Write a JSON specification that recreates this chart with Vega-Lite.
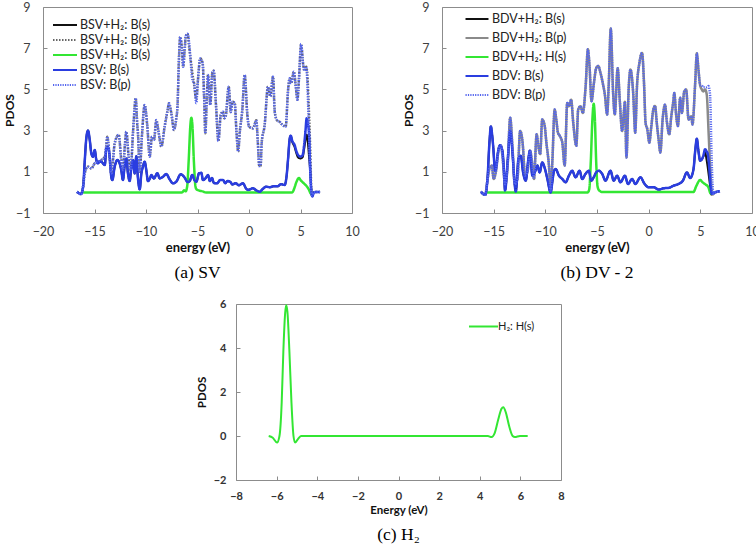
{
"$schema": "https://vega.github.io/schema/vega-lite/v6.json",
"background": "white",
"padding": {"left": 3, "top": 0, "right": 2, "bottom": 2},
"config": {
  "font": "Lato",
  "view": {"stroke": "#8c8c8c", "strokeWidth": 1},
  "axis": {"grid": false, "domain": false, "ticks": true, "tickSize": -4, "tickColor": "#8c8c8c", "labelFont": "Lato", "labelFontSize": 12.5, "labelColor": "#404040", "labelPadding": 16, "labelFlush": false, "labelOverlap": false, "titleFont": "Lato", "titleFontSize": 13, "titleFontWeight": "bold", "titleColor": "#111111", "titlePadding": 4},
  "axisY": {"titleFontSize": 12},
  "legend": {"labelFont": "Lato", "labelFontSize": 12.5, "labelColor": "#222222", "padding": 0},
  "title": {"font": "Liberation Serif", "fontSize": 17.5, "fontWeight": "normal", "color": "#000000", "orient": "bottom", "anchor": "middle"}
},
"datasets": {
"a1": [{"e":-16.7,"v":0.03},{"e":-16.3,"v":-0.08},{"e":-16.1,"v":0.3},{"e":-15.95,"v":1.5},{"e":-15.8,"v":2.6},{"e":-15.63,"v":3.0},{"e":-15.45,"v":2.5},{"e":-15.31,"v":1.9},{"e":-15.15,"v":1.73},{"e":-14.98,"v":2.06},{"e":-14.82,"v":1.57},{"e":-14.66,"v":1.41},{"e":-14.5,"v":1.5},{"e":-14.34,"v":1.49},{"e":-14.0,"v":1.33},{"e":-13.85,"v":2.14},{"e":-13.69,"v":2.19},{"e":-13.53,"v":1.73},{"e":-13.37,"v":0.76},{"e":-13.27,"v":0.6},{"e":-13.04,"v":1.25},{"e":-12.78,"v":1.57},{"e":-12.56,"v":1.41},{"e":-12.4,"v":1.08},{"e":-12.24,"v":0.6},{"e":-12.08,"v":1.25},{"e":-11.91,"v":1.65},{"e":-11.75,"v":0.92},{"e":-11.59,"v":0.55},{"e":-11.43,"v":1.16},{"e":-11.26,"v":1.57},{"e":-11.1,"v":0.92},{"e":-10.94,"v":1.75},{"e":-10.78,"v":0.68},{"e":-10.61,"v":0.15},{"e":-10.45,"v":0.92},{"e":-10.3,"v":1.25},{"e":-10.13,"v":1.49},{"e":-9.97,"v":1.08},{"e":-9.81,"v":0.55},{"e":-9.6,"v":0.7},{"e":-9.48,"v":0.84},{"e":-9.23,"v":0.68},{"e":-8.9,"v":0.93},{"e":-8.67,"v":0.68},{"e":-8.35,"v":0.76},{"e":-8.03,"v":0.89},{"e":-7.7,"v":0.63},{"e":-7.38,"v":0.44},{"e":-7.06,"v":0.52},{"e":-6.63,"v":0.88},{"e":-6.25,"v":0.72},{"e":-5.95,"v":0.5},{"e":-5.76,"v":0.55},{"e":-5.5,"v":0.85},{"e":-5.3,"v":0.6},{"e":-5.11,"v":0.52},{"e":-4.85,"v":0.93},{"e":-4.63,"v":0.95},{"e":-4.47,"v":0.6},{"e":-4.2,"v":0.7},{"e":-3.98,"v":0.84},{"e":-3.8,"v":0.55},{"e":-3.6,"v":0.7},{"e":-3.4,"v":0.45},{"e":-3.1,"v":0.44},{"e":-2.8,"v":0.6},{"e":-2.52,"v":0.6},{"e":-2.3,"v":0.45},{"e":-2.1,"v":0.55},{"e":-1.8,"v":0.5},{"e":-1.6,"v":0.38},{"e":-1.3,"v":0.45},{"e":-1.0,"v":0.35},{"e":-0.58,"v":0.44},{"e":-0.3,"v":0.2},{"e":-0.1,"v":0.12},{"e":0.39,"v":0.2},{"e":0.7,"v":0.1},{"e":1.03,"v":0.03},{"e":1.3,"v":0.15},{"e":1.68,"v":0.28},{"e":2.0,"v":0.25},{"e":2.4,"v":0.3},{"e":2.8,"v":0.3},{"e":3.1,"v":0.4},{"e":3.46,"v":0.36},{"e":3.65,"v":0.8},{"e":3.79,"v":1.6},{"e":3.95,"v":2.6},{"e":4.05,"v":2.75},{"e":4.2,"v":2.45},{"e":4.43,"v":2.2},{"e":4.6,"v":1.9},{"e":4.76,"v":1.7},{"e":4.98,"v":1.65},{"e":5.2,"v":1.7},{"e":5.35,"v":2.1},{"e":5.47,"v":2.5},{"e":5.6,"v":2.8},{"e":5.72,"v":2.4},{"e":5.82,"v":1.8},{"e":5.95,"v":1.0},{"e":6.1,"v":-0.15},{"e":6.3,"v":0.0},{"e":6.53,"v":0.02},{"e":6.9,"v":0.02}],
"a2": [{"e":-16.7,"v":0.03},{"e":-16.3,"v":-0.08},{"e":-16.1,"v":0.3},{"e":-15.95,"v":0.93},{"e":-15.63,"v":1.25},{"e":-15.3,"v":1.16},{"e":-14.98,"v":1.41},{"e":-14.66,"v":1.49},{"e":-14.34,"v":1.57},{"e":-14.0,"v":1.73},{"e":-13.85,"v":2.3},{"e":-13.76,"v":2.7},{"e":-13.6,"v":2.14},{"e":-13.37,"v":0.93},{"e":-13.2,"v":1.6},{"e":-13.04,"v":2.38},{"e":-12.65,"v":2.79},{"e":-12.4,"v":1.57},{"e":-12.24,"v":1.08},{"e":-12.05,"v":2.3},{"e":-11.91,"v":2.95},{"e":-11.66,"v":1.57},{"e":-11.5,"v":1.08},{"e":-11.25,"v":3.0},{"e":-11.0,"v":4.57},{"e":-10.85,"v":3.3},{"e":-10.78,"v":2.87},{"e":-10.61,"v":1.0},{"e":-10.4,"v":2.7},{"e":-10.13,"v":4.24},{"e":-9.87,"v":3.2},{"e":-9.64,"v":1.73},{"e":-9.42,"v":2.7},{"e":-9.22,"v":2.55},{"e":-9.0,"v":3.51},{"e":-8.77,"v":2.9},{"e":-8.51,"v":2.22},{"e":-8.19,"v":3.2},{"e":-7.9,"v":4.0},{"e":-7.77,"v":4.33},{"e":-7.54,"v":3.84},{"e":-7.28,"v":3.03},{"e":-7.06,"v":3.6},{"e":-6.94,"v":4.2},{"e":-6.8,"v":6.5},{"e":-6.68,"v":7.55},{"e":-6.5,"v":6.9},{"e":-6.39,"v":6.1},{"e":-6.25,"v":6.9},{"e":-6.13,"v":7.6},{"e":-5.97,"v":7.7},{"e":-5.8,"v":7.0},{"e":-5.65,"v":6.4},{"e":-5.5,"v":5.8},{"e":-5.32,"v":5.2},{"e":-5.12,"v":4.5},{"e":-4.95,"v":5.5},{"e":-4.73,"v":6.5},{"e":-4.5,"v":6.27},{"e":-4.35,"v":4.5},{"e":-4.24,"v":2.87},{"e":-4.1,"v":4.5},{"e":-3.98,"v":5.7},{"e":-3.87,"v":5.06},{"e":-3.76,"v":4.24},{"e":-3.55,"v":5.86},{"e":-3.43,"v":5.9},{"e":-3.2,"v":4.2},{"e":-2.97,"v":2.49},{"e":-2.74,"v":3.77},{"e":-2.52,"v":3.92},{"e":-2.42,"v":3.6},{"e":-2.26,"v":3.7},{"e":-1.97,"v":5.13},{"e":-1.77,"v":3.9},{"e":-1.6,"v":4.4},{"e":-1.39,"v":4.33},{"e":-1.2,"v":2.8},{"e":-1.05,"v":1.98},{"e":-0.9,"v":2.9},{"e":-0.65,"v":4.0},{"e":-0.42,"v":5.7},{"e":-0.16,"v":3.77},{"e":0.0,"v":3.2},{"e":0.39,"v":3.11},{"e":0.71,"v":3.5},{"e":0.85,"v":2.5},{"e":1.0,"v":1.28},{"e":1.13,"v":1.3},{"e":1.23,"v":2.4},{"e":1.52,"v":3.27},{"e":1.84,"v":5.13},{"e":2.07,"v":4.66},{"e":2.33,"v":5.62},{"e":2.5,"v":3.9},{"e":2.72,"v":3.5},{"e":3.04,"v":3.4},{"e":3.2,"v":3.3},{"e":3.56,"v":3.2},{"e":3.8,"v":5.0},{"e":3.95,"v":5.54},{"e":4.1,"v":5.3},{"e":4.35,"v":5.86},{"e":4.55,"v":5.1},{"e":4.7,"v":4.5},{"e":4.85,"v":5.5},{"e":5.06,"v":7.2},{"e":5.26,"v":6.2},{"e":5.4,"v":5.9},{"e":5.55,"v":6.1},{"e":5.65,"v":5.8},{"e":5.8,"v":4.2},{"e":5.95,"v":2.0},{"e":6.05,"v":0.2},{"e":6.15,"v":-0.15},{"e":6.3,"v":0.0},{"e":6.5,"v":0.02},{"e":6.9,"v":0.02}],
"a3": [{"e":-16.1,"v":0.0},{"e":-6.5,"v":0.0},{"e":-6.3,"v":0.1},{"e":-6.15,"v":0.05},{"e":-6.0,"v":0.3},{"e":-5.85,"v":1.6},{"e":-5.7,"v":3.2},{"e":-5.6,"v":3.62},{"e":-5.5,"v":3.3},{"e":-5.35,"v":1.5},{"e":-5.2,"v":0.3},{"e":-5.1,"v":0.15},{"e":-4.9,"v":0.1},{"e":-4.5,"v":0.05},{"e":-4.2,"v":0.0},{"e":4.2,"v":0.0},{"e":4.4,"v":0.2},{"e":4.6,"v":0.5},{"e":4.85,"v":0.7},{"e":5.0,"v":0.6},{"e":5.3,"v":0.45},{"e":5.6,"v":0.3},{"e":5.8,"v":0.15},{"e":6.0,"v":-0.05},{"e":6.15,"v":0.0}],
"a4": [{"e":-16.7,"v":0.03},{"e":-16.3,"v":-0.08},{"e":-16.1,"v":0.3},{"e":-15.95,"v":1.5},{"e":-15.8,"v":2.6},{"e":-15.63,"v":3.0},{"e":-15.45,"v":2.5},{"e":-15.31,"v":1.9},{"e":-15.15,"v":1.73},{"e":-14.98,"v":2.06},{"e":-14.82,"v":1.57},{"e":-14.66,"v":1.41},{"e":-14.5,"v":1.5},{"e":-14.34,"v":1.49},{"e":-14.0,"v":1.33},{"e":-13.85,"v":2.14},{"e":-13.69,"v":2.19},{"e":-13.53,"v":1.73},{"e":-13.37,"v":0.76},{"e":-13.27,"v":0.6},{"e":-13.04,"v":1.25},{"e":-12.78,"v":1.57},{"e":-12.56,"v":1.41},{"e":-12.4,"v":1.08},{"e":-12.24,"v":0.6},{"e":-12.08,"v":1.25},{"e":-11.91,"v":1.65},{"e":-11.75,"v":0.92},{"e":-11.59,"v":0.55},{"e":-11.43,"v":1.16},{"e":-11.26,"v":1.57},{"e":-11.1,"v":0.92},{"e":-10.94,"v":1.75},{"e":-10.78,"v":0.68},{"e":-10.61,"v":0.15},{"e":-10.45,"v":0.92},{"e":-10.3,"v":1.25},{"e":-10.13,"v":1.49},{"e":-9.97,"v":1.08},{"e":-9.81,"v":0.55},{"e":-9.6,"v":0.7},{"e":-9.48,"v":0.84},{"e":-9.23,"v":0.68},{"e":-8.9,"v":0.93},{"e":-8.67,"v":0.68},{"e":-8.35,"v":0.76},{"e":-8.03,"v":0.89},{"e":-7.7,"v":0.63},{"e":-7.38,"v":0.44},{"e":-7.06,"v":0.52},{"e":-6.63,"v":0.88},{"e":-6.25,"v":0.72},{"e":-5.95,"v":0.5},{"e":-5.76,"v":0.55},{"e":-5.5,"v":0.85},{"e":-5.3,"v":0.6},{"e":-5.11,"v":0.52},{"e":-4.85,"v":0.93},{"e":-4.63,"v":0.95},{"e":-4.47,"v":0.6},{"e":-4.2,"v":0.7},{"e":-3.98,"v":0.84},{"e":-3.8,"v":0.55},{"e":-3.6,"v":0.7},{"e":-3.4,"v":0.45},{"e":-3.1,"v":0.44},{"e":-2.8,"v":0.6},{"e":-2.52,"v":0.6},{"e":-2.3,"v":0.45},{"e":-2.1,"v":0.55},{"e":-1.8,"v":0.5},{"e":-1.6,"v":0.38},{"e":-1.3,"v":0.45},{"e":-1.0,"v":0.35},{"e":-0.58,"v":0.44},{"e":-0.3,"v":0.2},{"e":-0.1,"v":0.12},{"e":0.39,"v":0.2},{"e":0.7,"v":0.1},{"e":1.03,"v":0.03},{"e":1.3,"v":0.15},{"e":1.68,"v":0.28},{"e":2.0,"v":0.25},{"e":2.4,"v":0.3},{"e":2.8,"v":0.3},{"e":3.1,"v":0.4},{"e":3.46,"v":0.36},{"e":3.65,"v":0.8},{"e":3.79,"v":1.6},{"e":3.95,"v":2.6},{"e":4.05,"v":2.75},{"e":4.2,"v":2.5},{"e":4.43,"v":2.3},{"e":4.6,"v":2.0},{"e":4.76,"v":1.82},{"e":4.98,"v":1.74},{"e":5.2,"v":1.8},{"e":5.35,"v":2.3},{"e":5.47,"v":2.9},{"e":5.6,"v":3.6},{"e":5.72,"v":3.3},{"e":5.82,"v":2.95},{"e":5.95,"v":1.0},{"e":6.05,"v":0.04},{"e":6.15,"v":-0.2},{"e":6.3,"v":0.0},{"e":6.53,"v":0.02},{"e":6.9,"v":0.02}],
"a5": [{"e":-16.7,"v":0.03},{"e":-16.3,"v":-0.08},{"e":-16.1,"v":0.3},{"e":-15.95,"v":0.93},{"e":-15.63,"v":1.25},{"e":-15.3,"v":1.16},{"e":-14.98,"v":1.41},{"e":-14.66,"v":1.49},{"e":-14.34,"v":1.57},{"e":-14.0,"v":1.73},{"e":-13.85,"v":2.3},{"e":-13.76,"v":2.7},{"e":-13.6,"v":2.14},{"e":-13.37,"v":0.93},{"e":-13.2,"v":1.6},{"e":-13.04,"v":2.38},{"e":-12.65,"v":2.79},{"e":-12.4,"v":1.57},{"e":-12.24,"v":1.08},{"e":-12.05,"v":2.3},{"e":-11.91,"v":2.95},{"e":-11.66,"v":1.57},{"e":-11.5,"v":1.08},{"e":-11.25,"v":3.0},{"e":-11.0,"v":4.57},{"e":-10.85,"v":3.3},{"e":-10.78,"v":2.87},{"e":-10.61,"v":1.0},{"e":-10.4,"v":2.7},{"e":-10.13,"v":4.24},{"e":-9.87,"v":3.2},{"e":-9.64,"v":1.73},{"e":-9.42,"v":2.7},{"e":-9.22,"v":2.55},{"e":-9.0,"v":3.51},{"e":-8.77,"v":2.9},{"e":-8.51,"v":2.22},{"e":-8.19,"v":3.2},{"e":-7.9,"v":4.0},{"e":-7.77,"v":4.33},{"e":-7.54,"v":3.84},{"e":-7.28,"v":3.03},{"e":-7.06,"v":3.6},{"e":-6.94,"v":4.2},{"e":-6.8,"v":6.5},{"e":-6.68,"v":7.55},{"e":-6.5,"v":6.9},{"e":-6.39,"v":6.1},{"e":-6.25,"v":6.9},{"e":-6.13,"v":7.6},{"e":-5.97,"v":7.7},{"e":-5.8,"v":7.2},{"e":-5.65,"v":6.27},{"e":-5.5,"v":5.46},{"e":-5.32,"v":5.3},{"e":-5.12,"v":4.33},{"e":-4.95,"v":5.5},{"e":-4.73,"v":6.5},{"e":-4.5,"v":6.27},{"e":-4.35,"v":4.5},{"e":-4.24,"v":2.87},{"e":-4.1,"v":4.5},{"e":-3.98,"v":5.7},{"e":-3.87,"v":5.06},{"e":-3.76,"v":4.24},{"e":-3.55,"v":5.86},{"e":-3.43,"v":5.9},{"e":-3.2,"v":4.2},{"e":-2.97,"v":2.49},{"e":-2.74,"v":3.77},{"e":-2.52,"v":3.92},{"e":-2.42,"v":3.6},{"e":-2.26,"v":3.7},{"e":-1.97,"v":5.13},{"e":-1.77,"v":3.9},{"e":-1.6,"v":4.4},{"e":-1.39,"v":4.33},{"e":-1.2,"v":2.8},{"e":-1.05,"v":1.98},{"e":-0.9,"v":2.9},{"e":-0.65,"v":4.0},{"e":-0.42,"v":5.7},{"e":-0.16,"v":3.77},{"e":0.0,"v":3.2},{"e":0.39,"v":3.11},{"e":0.71,"v":3.5},{"e":0.85,"v":2.5},{"e":1.0,"v":1.28},{"e":1.13,"v":1.3},{"e":1.23,"v":2.4},{"e":1.52,"v":3.27},{"e":1.84,"v":5.13},{"e":2.07,"v":4.66},{"e":2.33,"v":5.62},{"e":2.5,"v":3.9},{"e":2.72,"v":3.5},{"e":3.04,"v":3.4},{"e":3.2,"v":3.3},{"e":3.56,"v":3.2},{"e":3.8,"v":5.0},{"e":3.95,"v":5.54},{"e":4.1,"v":5.3},{"e":4.35,"v":5.86},{"e":4.55,"v":5.1},{"e":4.7,"v":4.5},{"e":4.85,"v":5.5},{"e":5.06,"v":7.2},{"e":5.26,"v":6.2},{"e":5.4,"v":5.9},{"e":5.55,"v":6.1},{"e":5.65,"v":5.5},{"e":5.8,"v":3.3},{"e":5.95,"v":1.0},{"e":6.05,"v":0.0},{"e":6.15,"v":-0.15},{"e":6.3,"v":0.0},{"e":6.5,"v":0.02},{"e":6.9,"v":0.02}],
"b1": [{"e":-16.24,"v":0.04},{"e":-15.82,"v":-0.12},{"e":-15.6,"v":0.65},{"e":-15.4,"v":2.5},{"e":-15.27,"v":3.2},{"e":-15.15,"v":2.8},{"e":-15.05,"v":2.26},{"e":-14.86,"v":1.05},{"e":-14.73,"v":1.3},{"e":-14.63,"v":1.78},{"e":-14.37,"v":2.29},{"e":-14.15,"v":2.0},{"e":-14.0,"v":1.0},{"e":-13.9,"v":0.09},{"e":-13.63,"v":1.62},{"e":-13.4,"v":2.98},{"e":-13.18,"v":1.94},{"e":-13.0,"v":0.6},{"e":-12.86,"v":0.04},{"e":-12.6,"v":1.62},{"e":-12.38,"v":1.78},{"e":-12.15,"v":0.97},{"e":-11.9,"v":0.57},{"e":-11.64,"v":1.62},{"e":-11.5,"v":2.02},{"e":-11.25,"v":0.81},{"e":-11.0,"v":1.0},{"e":-10.77,"v":1.3},{"e":-10.55,"v":0.97},{"e":-10.3,"v":1.45},{"e":-10.03,"v":1.13},{"e":-9.8,"v":0.65},{"e":-9.49,"v":0.0},{"e":-9.3,"v":0.6},{"e":-9.16,"v":1.05},{"e":-9.0,"v":1.13},{"e":-8.68,"v":0.81},{"e":-8.36,"v":0.65},{"e":-8.04,"v":0.49},{"e":-7.72,"v":0.81},{"e":-7.4,"v":1.05},{"e":-7.07,"v":0.73},{"e":-6.69,"v":1.05},{"e":-6.43,"v":0.65},{"e":-6.11,"v":0.9},{"e":-5.79,"v":1.05},{"e":-5.56,"v":0.57},{"e":-5.3,"v":0.75},{"e":-5.08,"v":0.97},{"e":-4.82,"v":1.05},{"e":-4.5,"v":0.9},{"e":-4.18,"v":0.57},{"e":-3.7,"v":1.05},{"e":-3.38,"v":0.57},{"e":-3.05,"v":0.81},{"e":-2.73,"v":0.49},{"e":-2.3,"v":0.81},{"e":-2.0,"v":0.41},{"e":-1.6,"v":0.65},{"e":-1.29,"v":0.41},{"e":-0.8,"v":0.73},{"e":-0.39,"v":0.41},{"e":0.0,"v":0.25},{"e":0.48,"v":0.25},{"e":0.96,"v":0.14},{"e":1.45,"v":0.2},{"e":1.93,"v":0.22},{"e":2.41,"v":0.33},{"e":2.89,"v":0.41},{"e":3.31,"v":0.57},{"e":3.7,"v":0.97},{"e":4.02,"v":0.7},{"e":4.34,"v":1.13},{"e":4.5,"v":2.0},{"e":4.66,"v":2.6},{"e":4.82,"v":2.0},{"e":4.98,"v":1.54},{"e":5.14,"v":1.6},{"e":5.3,"v":1.75},{"e":5.46,"v":1.95},{"e":5.6,"v":1.6},{"e":5.72,"v":1.2},{"e":5.85,"v":0.7},{"e":5.95,"v":0.3},{"e":6.05,"v":-0.1},{"e":6.4,"v":0.0},{"e":6.9,"v":0.06}],
"b2": [{"e":-16.24,"v":0.04},{"e":-15.82,"v":-0.12},{"e":-15.6,"v":0.6},{"e":-15.37,"v":1.22},{"e":-15.18,"v":1.3},{"e":-15.0,"v":0.65},{"e":-14.8,"v":0.97},{"e":-14.47,"v":2.18},{"e":-14.3,"v":2.26},{"e":-14.15,"v":1.78},{"e":-13.9,"v":0.4},{"e":-13.67,"v":1.13},{"e":-13.4,"v":3.62},{"e":-13.18,"v":2.18},{"e":-12.96,"v":0.4},{"e":-12.7,"v":0.65},{"e":-12.44,"v":2.98},{"e":-12.2,"v":2.42},{"e":-11.96,"v":0.82},{"e":-11.74,"v":0.97},{"e":-11.48,"v":2.02},{"e":-11.25,"v":1.3},{"e":-11.1,"v":0.65},{"e":-10.84,"v":2.82},{"e":-10.68,"v":2.26},{"e":-10.5,"v":1.86},{"e":-10.3,"v":3.54},{"e":-10.06,"v":3.22},{"e":-9.9,"v":2.42},{"e":-9.65,"v":1.3},{"e":-9.49,"v":0.09},{"e":-9.32,"v":1.5},{"e":-9.1,"v":4.02},{"e":-8.94,"v":3.54},{"e":-8.78,"v":2.9},{"e":-8.6,"v":2.74},{"e":-8.36,"v":2.42},{"e":-8.13,"v":1.3},{"e":-7.88,"v":4.34},{"e":-7.72,"v":4.18},{"e":-7.5,"v":4.5},{"e":-7.3,"v":3.38},{"e":-7.0,"v":2.26},{"e":-6.82,"v":4.02},{"e":-6.6,"v":4.18},{"e":-6.37,"v":3.86},{"e":-6.1,"v":5.15},{"e":-5.88,"v":6.95},{"e":-5.72,"v":6.1},{"e":-5.53,"v":4.43},{"e":-5.3,"v":5.3},{"e":-5.08,"v":6.03},{"e":-4.89,"v":6.14},{"e":-4.66,"v":5.8},{"e":-4.44,"v":5.3},{"e":-4.24,"v":4.75},{"e":-4.02,"v":3.78},{"e":-3.86,"v":5.3},{"e":-3.67,"v":7.96},{"e":-3.44,"v":4.83},{"e":-3.28,"v":3.78},{"e":-3.0,"v":6.03},{"e":-2.8,"v":4.5},{"e":-2.57,"v":2.98},{"e":-2.4,"v":3.9},{"e":-2.3,"v":4.4},{"e":-2.15,"v":1.7},{"e":-1.93,"v":5.08},{"e":-1.76,"v":5.96},{"e":-1.5,"v":4.84},{"e":-1.3,"v":2.9},{"e":-1.13,"v":5.15},{"e":-0.9,"v":6.27},{"e":-0.64,"v":6.77},{"e":-0.45,"v":5.3},{"e":-0.3,"v":3.38},{"e":-0.13,"v":3.06},{"e":0.06,"v":2.42},{"e":0.26,"v":3.22},{"e":0.45,"v":4.02},{"e":0.62,"v":4.2},{"e":0.78,"v":3.4},{"e":0.96,"v":2.58},{"e":1.13,"v":1.94},{"e":1.35,"v":3.54},{"e":1.58,"v":4.26},{"e":1.77,"v":3.4},{"e":1.99,"v":2.82},{"e":2.19,"v":3.7},{"e":2.38,"v":4.4},{"e":2.48,"v":4.83},{"e":2.64,"v":3.86},{"e":2.83,"v":3.22},{"e":3.05,"v":4.59},{"e":3.22,"v":3.86},{"e":3.44,"v":4.9},{"e":3.63,"v":4.99},{"e":3.86,"v":3.54},{"e":4.12,"v":3.7},{"e":4.24,"v":3.3},{"e":4.5,"v":5.3},{"e":4.66,"v":6.75},{"e":4.82,"v":5.95},{"e":4.98,"v":5.2},{"e":5.14,"v":5.0},{"e":5.3,"v":4.9},{"e":5.46,"v":5.0},{"e":5.62,"v":4.75},{"e":5.8,"v":2.9},{"e":5.95,"v":1.2},{"e":6.1,"v":0.1},{"e":6.2,"v":-0.1},{"e":6.4,"v":0.0},{"e":6.9,"v":0.06}],
"b3": [{"e":-15.75,"v":0.0},{"e":-5.9,"v":0.0},{"e":-5.75,"v":0.15},{"e":-5.6,"v":1.5},{"e":-5.45,"v":3.5},{"e":-5.32,"v":4.3},{"e":-5.2,"v":3.5},{"e":-5.08,"v":1.5},{"e":-4.95,"v":0.3},{"e":-4.8,"v":0.1},{"e":-4.5,"v":0.02},{"e":4.34,"v":0.02},{"e":4.6,"v":0.3},{"e":4.98,"v":0.6},{"e":5.2,"v":0.5},{"e":5.46,"v":0.4},{"e":5.78,"v":0.25},{"e":6.0,"v":-0.05},{"e":6.15,"v":0.0}],
"b4": [{"e":-16.24,"v":0.04},{"e":-15.82,"v":-0.12},{"e":-15.6,"v":0.65},{"e":-15.4,"v":2.5},{"e":-15.27,"v":3.2},{"e":-15.15,"v":2.8},{"e":-15.05,"v":2.26},{"e":-14.86,"v":1.05},{"e":-14.73,"v":1.3},{"e":-14.63,"v":1.78},{"e":-14.37,"v":2.29},{"e":-14.15,"v":2.0},{"e":-14.0,"v":1.0},{"e":-13.9,"v":0.09},{"e":-13.63,"v":1.62},{"e":-13.4,"v":2.98},{"e":-13.18,"v":1.94},{"e":-13.0,"v":0.6},{"e":-12.86,"v":0.04},{"e":-12.6,"v":1.62},{"e":-12.38,"v":1.78},{"e":-12.15,"v":0.97},{"e":-11.9,"v":0.57},{"e":-11.64,"v":1.62},{"e":-11.5,"v":2.02},{"e":-11.25,"v":0.81},{"e":-11.0,"v":1.0},{"e":-10.77,"v":1.3},{"e":-10.55,"v":0.97},{"e":-10.3,"v":1.45},{"e":-10.03,"v":1.13},{"e":-9.8,"v":0.65},{"e":-9.49,"v":0.0},{"e":-9.3,"v":0.6},{"e":-9.16,"v":1.05},{"e":-9.0,"v":1.13},{"e":-8.68,"v":0.81},{"e":-8.36,"v":0.65},{"e":-8.04,"v":0.49},{"e":-7.72,"v":0.81},{"e":-7.4,"v":1.05},{"e":-7.07,"v":0.73},{"e":-6.69,"v":1.05},{"e":-6.43,"v":0.65},{"e":-6.11,"v":0.9},{"e":-5.79,"v":1.05},{"e":-5.56,"v":0.57},{"e":-5.3,"v":0.75},{"e":-5.08,"v":0.97},{"e":-4.82,"v":1.05},{"e":-4.5,"v":0.9},{"e":-4.18,"v":0.57},{"e":-3.7,"v":1.05},{"e":-3.38,"v":0.57},{"e":-3.05,"v":0.81},{"e":-2.73,"v":0.49},{"e":-2.3,"v":0.81},{"e":-2.0,"v":0.41},{"e":-1.6,"v":0.65},{"e":-1.29,"v":0.41},{"e":-0.8,"v":0.73},{"e":-0.39,"v":0.41},{"e":0.0,"v":0.25},{"e":0.48,"v":0.25},{"e":0.96,"v":0.14},{"e":1.45,"v":0.2},{"e":1.93,"v":0.22},{"e":2.41,"v":0.33},{"e":2.89,"v":0.41},{"e":3.31,"v":0.57},{"e":3.7,"v":0.97},{"e":4.02,"v":0.7},{"e":4.34,"v":1.13},{"e":4.5,"v":2.0},{"e":4.66,"v":2.6},{"e":4.82,"v":2.0},{"e":4.98,"v":1.54},{"e":5.14,"v":1.6},{"e":5.3,"v":1.8},{"e":5.46,"v":2.1},{"e":5.6,"v":2.0},{"e":5.72,"v":1.86},{"e":5.85,"v":1.3},{"e":5.95,"v":0.6},{"e":6.1,"v":-0.07},{"e":6.4,"v":0.0},{"e":6.9,"v":0.06}],
"b5": [{"e":-16.24,"v":0.04},{"e":-15.82,"v":-0.12},{"e":-15.6,"v":0.6},{"e":-15.37,"v":1.22},{"e":-15.18,"v":1.3},{"e":-15.0,"v":0.65},{"e":-14.8,"v":0.97},{"e":-14.47,"v":2.18},{"e":-14.3,"v":2.26},{"e":-14.15,"v":1.78},{"e":-13.9,"v":0.4},{"e":-13.67,"v":1.13},{"e":-13.4,"v":3.62},{"e":-13.18,"v":2.18},{"e":-12.96,"v":0.4},{"e":-12.7,"v":0.65},{"e":-12.44,"v":2.98},{"e":-12.2,"v":2.42},{"e":-11.96,"v":0.82},{"e":-11.74,"v":0.97},{"e":-11.48,"v":2.02},{"e":-11.25,"v":1.3},{"e":-11.1,"v":0.65},{"e":-10.84,"v":2.82},{"e":-10.68,"v":2.26},{"e":-10.5,"v":1.86},{"e":-10.3,"v":3.54},{"e":-10.06,"v":3.22},{"e":-9.9,"v":2.42},{"e":-9.65,"v":1.3},{"e":-9.49,"v":0.09},{"e":-9.32,"v":1.5},{"e":-9.1,"v":4.02},{"e":-8.94,"v":3.54},{"e":-8.78,"v":2.9},{"e":-8.6,"v":2.74},{"e":-8.36,"v":2.42},{"e":-8.13,"v":1.3},{"e":-7.88,"v":4.34},{"e":-7.72,"v":4.18},{"e":-7.5,"v":4.5},{"e":-7.3,"v":3.38},{"e":-7.0,"v":2.26},{"e":-6.82,"v":4.02},{"e":-6.6,"v":4.18},{"e":-6.37,"v":3.86},{"e":-6.1,"v":5.15},{"e":-5.88,"v":6.95},{"e":-5.72,"v":6.1},{"e":-5.53,"v":4.43},{"e":-5.3,"v":5.3},{"e":-5.08,"v":6.03},{"e":-4.89,"v":6.14},{"e":-4.66,"v":5.8},{"e":-4.44,"v":5.3},{"e":-4.24,"v":4.75},{"e":-4.02,"v":3.78},{"e":-3.86,"v":5.3},{"e":-3.67,"v":7.96},{"e":-3.44,"v":4.83},{"e":-3.28,"v":3.78},{"e":-3.0,"v":6.03},{"e":-2.8,"v":4.5},{"e":-2.57,"v":2.98},{"e":-2.4,"v":3.9},{"e":-2.3,"v":4.4},{"e":-2.15,"v":1.7},{"e":-1.93,"v":5.08},{"e":-1.76,"v":5.96},{"e":-1.5,"v":4.84},{"e":-1.3,"v":2.9},{"e":-1.13,"v":5.15},{"e":-0.9,"v":6.27},{"e":-0.64,"v":6.77},{"e":-0.45,"v":5.3},{"e":-0.3,"v":3.38},{"e":-0.13,"v":3.06},{"e":0.06,"v":2.42},{"e":0.26,"v":3.22},{"e":0.45,"v":4.02},{"e":0.62,"v":4.2},{"e":0.78,"v":3.4},{"e":0.96,"v":2.58},{"e":1.13,"v":1.94},{"e":1.35,"v":3.54},{"e":1.58,"v":4.26},{"e":1.77,"v":3.4},{"e":1.99,"v":2.82},{"e":2.19,"v":3.7},{"e":2.38,"v":4.4},{"e":2.48,"v":4.83},{"e":2.64,"v":3.86},{"e":2.83,"v":3.22},{"e":3.05,"v":4.59},{"e":3.22,"v":3.86},{"e":3.44,"v":4.9},{"e":3.63,"v":4.99},{"e":3.86,"v":3.54},{"e":4.12,"v":3.7},{"e":4.24,"v":3.3},{"e":4.5,"v":5.3},{"e":4.66,"v":6.75},{"e":4.82,"v":5.95},{"e":4.98,"v":5.23},{"e":5.14,"v":5.2},{"e":5.3,"v":5.1},{"e":5.46,"v":5.1},{"e":5.63,"v":5.1},{"e":5.78,"v":5.16},{"e":5.94,"v":4.75},{"e":6.1,"v":1.5},{"e":6.26,"v":-0.07},{"e":6.4,"v":0.0},{"e":6.9,"v":0.06}],
"c1": [{"e":-6.39,"v":0.0},{"e":-6.19,"v":-0.08},{"e":-5.98,"v":-0.3},{"e":-5.86,"v":0.0},{"e":-5.75,"v":1.53},{"e":-5.67,"v":3.82},{"e":-5.58,"v":5.59},{"e":-5.53,"v":5.94},{"e":-5.47,"v":5.66},{"e":-5.37,"v":3.82},{"e":-5.27,"v":1.53},{"e":-5.17,"v":0.0},{"e":-5.09,"v":-0.3},{"e":-4.96,"v":-0.15},{"e":-4.8,"v":0.0},{"e":4.4,"v":0.0},{"e":4.58,"v":-0.05},{"e":4.74,"v":0.14},{"e":4.91,"v":0.75},{"e":5.07,"v":1.24},{"e":5.16,"v":1.31},{"e":5.29,"v":1.05},{"e":5.45,"v":0.44},{"e":5.62,"v":0.0},{"e":5.73,"v":-0.05},{"e":5.98,"v":0.0},{"e":6.36,"v":0.0}]
},
"vconcat": [
 {
  "hconcat": [
   {
    "width": 309, "height": 206,
    "title": {"text": "(a)  SV", "offset": 9},
    "encoding": {
     "x": {"field": "e", "type": "quantitative", "scale": {"domain": [-20, 10], "nice": false, "zero": false}, "axis": {"values": [-20, -15, -10, -5, 0, 5, 10], "title": "energy (eV)"}},
     "y": {"field": "v", "type": "quantitative", "scale": {"domain": [-1, 9], "nice": false, "zero": false}, "axis": {"values": [-1, 1, 3, 5, 7, 9], "title": "PDOS", "labelPadding": 17, "titlePadding": -1}}
    },
    "layer": [
     {"data": {"name": "a1"}, "mark": {"type": "line", "interpolate": "monotone", "clip": true},
      "encoding": {
       "color": {"datum": "a1", "type": "nominal", "scale": {"domain": ["a1", "a2", "a3", "a4", "a5"], "range": ["#111111", "#666666", "#33e633", "#2a3de0", "#5566ee"]},
        "legend": {"title": null, "orient": "none", "legendX": 15, "legendY": 11, "symbolType": "M-2,0H2", "symbolSize": 144, "symbolStrokeWidth": 1.8, "labelOffset": 8, "rowPadding": 1, "labelExpr": "datum.value == 'a4' ? 'BSV: B(s)' : datum.value == 'a5' ? 'BSV: B(p)' : 'BSV+H₂: B(s)'"}},
       "strokeDash": {"datum": "a1", "type": "nominal", "scale": {"domain": ["a1", "a2", "a3", "a4", "a5"], "range": [[1, 0], [1.5, 1.5], [1, 0], [1, 0], [1.2, 1.2]]}},
       "strokeWidth": {"datum": "a1", "type": "nominal", "legend": null, "scale": {"type": "ordinal", "domain": ["a1", "a2", "a3", "a4", "a5"], "range": [2, 0.8, 1.6, 2.2, 1]}}
      }},
     {"data": {"name": "a2"}, "mark": {"type": "line", "interpolate": "monotone", "clip": true},
      "encoding": {"color": {"datum": "a2", "type": "nominal", "legend": null}, "strokeDash": {"datum": "a2", "type": "nominal", "legend": null}, "strokeWidth": {"datum": "a2", "type": "nominal", "legend": null}}},
     {"data": {"name": "a3"}, "mark": {"type": "line", "interpolate": "monotone", "clip": true},
      "encoding": {"color": {"datum": "a3", "type": "nominal", "legend": null}, "strokeDash": {"datum": "a3", "type": "nominal", "legend": null}, "strokeWidth": {"datum": "a3", "type": "nominal", "legend": null}}},
     {"data": {"name": "a4"}, "mark": {"type": "line", "interpolate": "monotone", "clip": true},
      "encoding": {"color": {"datum": "a4", "type": "nominal", "legend": null}, "strokeDash": {"datum": "a4", "type": "nominal", "legend": null}, "strokeWidth": {"datum": "a4", "type": "nominal", "legend": null}}},
     {"data": {"name": "a5"}, "mark": {"type": "line", "interpolate": "monotone", "clip": true},
      "encoding": {"color": {"datum": "a5", "type": "nominal", "legend": null}, "strokeDash": {"datum": "a5", "type": "nominal", "legend": null}, "strokeWidth": {"datum": "a5", "type": "nominal", "legend": null}}}
    ]
   },
   {
    "width": 310, "height": 206,
    "title": {"text": "(b)  DV - 2", "offset": 9},
    "encoding": {
     "x": {"field": "e", "type": "quantitative", "scale": {"domain": [-20, 10], "nice": false, "zero": false}, "axis": {"values": [-20, -15, -10, -5, 0, 5, 10], "title": "energy (eV)"}},
     "y": {"field": "v", "type": "quantitative", "scale": {"domain": [-1, 9], "nice": false, "zero": false}, "axis": {"values": [-1, 1, 3, 5, 7, 9], "title": "PDOS", "labelPadding": 17, "titlePadding": -1}}
    },
    "layer": [
     {"data": {"name": "b1"}, "mark": {"type": "line", "interpolate": "monotone", "clip": true},
      "encoding": {
       "color": {"datum": "b1", "type": "nominal", "scale": {"domain": ["b1", "b2", "b3", "b4", "b5"], "range": ["#111111", "#8a8a8a", "#33e633", "#2a3de0", "#5566ee"]},
        "legend": {"title": null, "orient": "none", "legendX": 28, "legendY": 5, "symbolType": "M-2,0H2", "symbolSize": 132, "symbolStrokeWidth": 1.8, "labelOffset": 8, "rowPadding": 5, "labelExpr": "datum.value == 'b1' ? 'BDV+H₂: B(s)' : datum.value == 'b2' ? 'BDV+H₂: B(p)' : datum.value == 'b3' ? 'BDV+H₂: H(s)' : datum.value == 'b4' ? 'BDV: B(s)' : 'BDV: B(p)'"}},
       "strokeDash": {"datum": "b1", "type": "nominal", "scale": {"domain": ["b1", "b2", "b3", "b4", "b5"], "range": [[1, 0], [1, 0], [1, 0], [1, 0], [1.2, 1.2]]}},
       "strokeWidth": {"datum": "b1", "type": "nominal", "legend": null, "scale": {"type": "ordinal", "domain": ["b1", "b2", "b3", "b4", "b5"], "range": [2, 1.6, 1.6, 2.2, 1]}}
      }},
     {"data": {"name": "b2"}, "mark": {"type": "line", "interpolate": "monotone", "clip": true},
      "encoding": {"color": {"datum": "b2", "type": "nominal", "legend": null}, "strokeDash": {"datum": "b2", "type": "nominal", "legend": null}, "strokeWidth": {"datum": "b2", "type": "nominal", "legend": null}}},
     {"data": {"name": "b3"}, "mark": {"type": "line", "interpolate": "monotone", "clip": true},
      "encoding": {"color": {"datum": "b3", "type": "nominal", "legend": null}, "strokeDash": {"datum": "b3", "type": "nominal", "legend": null}, "strokeWidth": {"datum": "b3", "type": "nominal", "legend": null}}},
     {"data": {"name": "b4"}, "mark": {"type": "line", "interpolate": "monotone", "clip": true},
      "encoding": {"color": {"datum": "b4", "type": "nominal", "legend": null}, "strokeDash": {"datum": "b4", "type": "nominal", "legend": null}, "strokeWidth": {"datum": "b4", "type": "nominal", "legend": null}}},
     {"data": {"name": "b5"}, "mark": {"type": "line", "interpolate": "monotone", "clip": true},
      "encoding": {"color": {"datum": "b5", "type": "nominal", "legend": null}, "strokeDash": {"datum": "b5", "type": "nominal", "legend": null}, "strokeWidth": {"datum": "b5", "type": "nominal", "legend": null}}}
    ]
   }
  ],
  "spacing": 90,
  "bounds": "flush",
  "resolve": {"scale": {"color": "independent", "strokeDash": "independent", "strokeWidth": "independent"}, "legend": {"color": "independent", "strokeDash": "independent", "strokeWidth": "independent"}}
 },
 {
  "hconcat": [
   {
    "width": 193, "height": 176,
    "view": {"stroke": null},
    "data": {"values": []},
    "mark": {"type": "point", "opacity": 0},
    "encoding": {}
   },
   {
    "width": 325, "height": 176,
    "title": {"text": "(c)  H₂", "offset": 10},
    "data": {"name": "c1"},
    "mark": {"type": "line", "interpolate": "monotone", "clip": true, "strokeWidth": 2},
    "encoding": {
     "x": {"field": "e", "type": "quantitative", "scale": {"domain": [-8, 8], "nice": false, "zero": false}, "axis": {"values": [-8, -6, -4, -2, 0, 2, 4, 6, 8], "title": "Energy (eV)", "labelFontSize": 11, "labelFontWeight": "bold", "labelColor": "#333333", "titleFontSize": 11.5, "labelPadding": 14, "titlePadding": 3}},
     "y": {"field": "v", "type": "quantitative", "scale": {"domain": [-2, 6], "nice": false, "zero": false}, "axis": {"values": [-2, 0, 2, 4, 6], "title": "PDOS", "labelFontSize": 11, "labelFontWeight": "bold", "labelColor": "#333333", "titleFontSize": 11.5, "labelPadding": 14, "titlePadding": 6}},
     "color": {"datum": "c1", "type": "nominal", "scale": {"domain": ["c1"], "range": ["#33e633"]},
      "legend": {"title": null, "orient": "none", "legendX": 239, "legendY": 14, "symbolType": "M-2,0H2", "symbolSize": 210, "symbolStrokeWidth": 2, "labelOffset": 6, "labelFontSize": 11, "labelExpr": "'H₂: H(s)'"}}
    }
   }
  ],
  "spacing": 0,
  "bounds": "flush",
  "resolve": {"scale": {"color": "independent"}, "legend": {"color": "independent"}}
 }
],
"spacing": 15,
"resolve": {"scale": {"color": "independent", "strokeDash": "independent", "strokeWidth": "independent"}, "legend": {"color": "independent", "strokeDash": "independent", "strokeWidth": "independent"}}
}
